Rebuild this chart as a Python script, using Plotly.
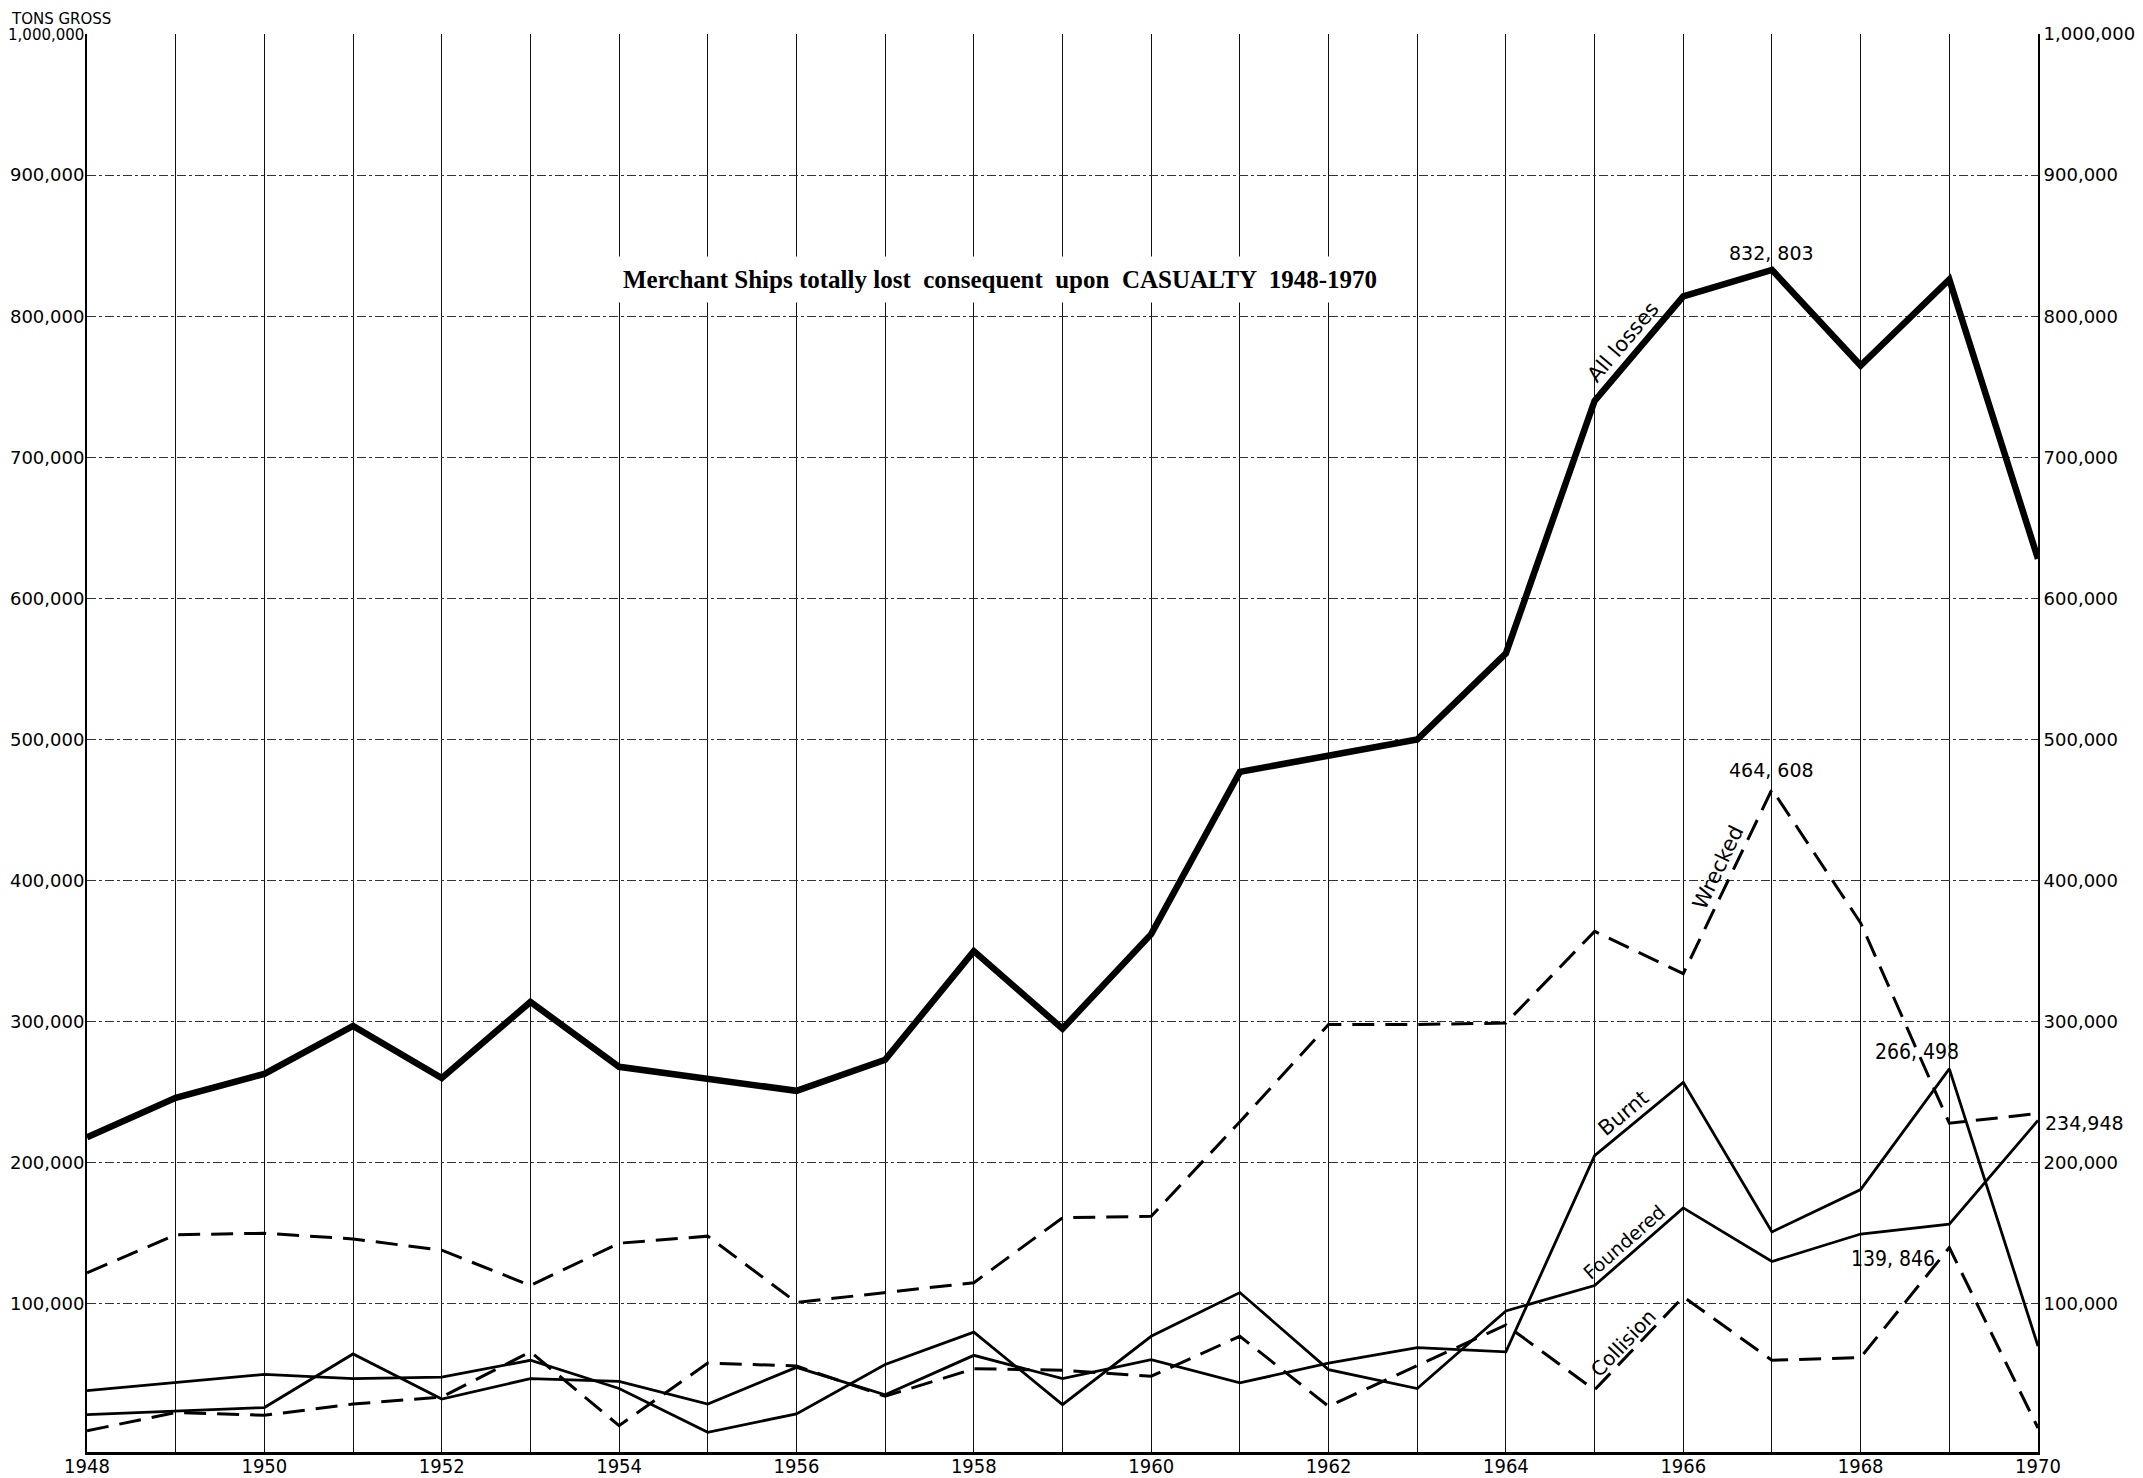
import math
import plotly.graph_objects as go

# ---------------- data ----------------
YEARS = list(range(1948, 1971))
ALL_LOSSES = [218000, 246000, 263000, 297000, 260000, 314000, 268000, 260000, 251000, 273000,
              350000, 295000, 362000, 477000, 488000, 500000, 561000, 740000, 814000, 832803,
              765000, 826000, 628000]
WRECKED = [122000, 149000, 150000, 146000, 138000, 113000, 143000, 148000, 101000, 108000,
           115000, 161000, 162000, 229000, 298000, 298000, 299000, 364000, 334000, 464608,
           370000, 228000, 234948]
BURNT = [21500, 24000, 26500, 64500, 32500, 47000, 45000, 29000, 55000, 35500,
         63500, 47000, 60500, 44000, 58000, 69000, 66000, 205000, 257000, 151000,
         181000, 266498, 70000]
FOUNDERED = [38500, 44000, 50000, 47000, 48000, 60000, 40000, 9000, 22000, 57000,
             80000, 28600, 77000, 108000, 53400, 40000, 95000, 113000, 168000, 130000,
             149500, 156500, 230000]
COLLISION = [10000, 23000, 21000, 29000, 34000, 66000, 13700, 58000, 56000, 34500,
             54000, 53000, 48700, 77000, 27400, 56000, 85000, 39000, 105000, 60000,
             62000, 139846, 12000]

X_TICK_LABELS = [str(y) if y % 2 == 0 else "" for y in YEARS]
Y_TICKS = [100000, 200000, 300000, 400000, 500000, 600000, 700000, 800000, 900000, 1000000]
Y_TICK_LABELS = ["100,000", "200,000", "300,000", "400,000", "500,000",
                 "600,000", "700,000", "800,000", "900,000", "1,000,000"]

TITLE = "Merchant Ships totally lost  consequent  upon  CASUALTY  1948-1970"
UNIT = "TONS GROSS"

# ---------------- geometry / style ----------------
# the page body adds an 8 px offset; the figure is sized to fit the window
# and the margins place the plot box where the reference has it
W, H = 2135, 1470
ML, MR, MT, MB = 79, 105, 26, 26
PW, PH = W - ML - MR, H - MT - MB
X0, X1 = 1948, 1970
Y0, Y1 = -5000, 1000000

SANS = "DejaVu Sans"
NARROW = "Liberation Sans Narrow, DejaVu Sans Condensed, Liberation Sans"


def px(x):
    return ML + (x - X0) / (X1 - X0) * PW


def py(y):
    return MT + (Y1 - y) / (Y1 - Y0) * PH


fig = go.Figure()

dash = "22px,11px"
fig.add_trace(go.Scatter(x=YEARS, y=WRECKED, mode="lines", name="Wrecked",
                         line=dict(color="black", width=3, dash=dash)))
fig.add_trace(go.Scatter(x=YEARS, y=COLLISION, mode="lines", name="Collision",
                         line=dict(color="black", width=3, dash=dash)))
fig.add_trace(go.Scatter(x=YEARS, y=BURNT, mode="lines", name="Burnt",
                         line=dict(color="black", width=2.8)))
fig.add_trace(go.Scatter(x=YEARS, y=FOUNDERED, mode="lines", name="Foundered",
                         line=dict(color="black", width=2.8)))
fig.add_trace(go.Scatter(x=YEARS, y=ALL_LOSSES, mode="lines", name="All losses",
                         line=dict(color="black", width=6.5)))
# invisible trace to carry the right-hand axis
fig.add_trace(go.Scatter(x=YEARS, y=ALL_LOSSES, mode="lines", yaxis="y2",
                         line=dict(color="rgba(0,0,0,0)", width=0), hoverinfo="skip",
                         showlegend=False))


def seg_label(series, year, t, text, off, size=20):
    i = YEARS.index(year)
    xa, ya = px(YEARS[i]), py(series[i])
    xb, yb = px(YEARS[i + 1]), py(series[i + 1])
    dx, dy = xb - xa, yb - ya
    L = math.hypot(dx, dy)
    ang = math.degrees(math.atan2(dy, dx))
    nx, ny = dy / L, -dx / L
    cx, cy = xa + t * dx + off * nx, ya + t * dy + off * ny
    fig.add_annotation(x=(cx - ML) / PW, y=1 - (cy - MT) / PH, xref="paper", yref="paper",
                       text=text, showarrow=False, textangle=ang,
                       xanchor="center", yanchor="middle",
                       font=dict(family=SANS, size=size, color="black"))


seg_label(ALL_LOSSES, 1965, 0.46, "All losses", 16, 21)
seg_label(WRECKED, 1966, 0.54, "Wrecked", 15, 21)
seg_label(BURNT, 1965, 0.43, "Burnt", 14, 21)
seg_label(FOUNDERED, 1965, 0.43, "Foundered", 13, 19)
seg_label(COLLISION, 1965, 0.42, "Collision", 12, 20)


def val_label(series, year, text, **kw):
    i = YEARS.index(year)
    fig.add_annotation(x=YEARS[i], y=series[i], xref="x", yref="y", text=text,
                       showarrow=False, **kw)


vfont = dict(family=SANS, size=19, color="black")
nfont = dict(family=NARROW, size=21, color="black")
val_label(ALL_LOSSES, 1967, "832, 803", yanchor="bottom", yshift=4, font=vfont)
val_label(WRECKED, 1967, "464, 608", yanchor="bottom", yshift=6, font=vfont)
val_label(BURNT, 1969, "266, 498", yanchor="bottom", xshift=-32, yshift=3, font=nfont)
val_label(COLLISION, 1969, "139, 846", xanchor="right", yanchor="middle", xshift=-12, yshift=-11,
          font=nfont)
val_label(WRECKED, 1970, "234,948", xanchor="left", yanchor="middle", xshift=5, yshift=-10,
          font=dict(family=SANS, size=19, color="black"))

# title with white box
fig.add_annotation(x=(1000 - 8 - ML) / PW, y=1 - (280 - 8 - MT) / PH, xref="paper", yref="paper",
                   text="<b>" + TITLE + "</b>", showarrow=False, xanchor="center", yanchor="middle",
                   bgcolor="white", borderpad=9,
                   font=dict(family="Liberation Serif", size=25, color="black"))

# unit label in the top-left corner
fig.add_annotation(x=0, y=1, xref="paper", yref="paper", text=UNIT, showarrow=False,
                   xanchor="right", yanchor="bottom", xshift=26, yshift=4,
                   font=dict(family=SANS, size=15, color="black"))

# left labels sized so they stay inside the page; the longest one a bit smaller
LEFT_TICK_TEXT = [t if len(t) < 8 else "<span style='font-size:15px'>" + t + "</span>"
                  for t in Y_TICK_LABELS]

fig.update_layout(
    width=W, height=H,
    margin=dict(l=ML, r=MR, t=MT, b=MB, autoexpand=False),
    paper_bgcolor="white", plot_bgcolor="white",
    showlegend=False,
    xaxis=dict(range=[X0, X1], tickmode="array", tickvals=YEARS, ticktext=X_TICK_LABELS,
               showgrid=True, gridcolor="#111111", gridwidth=1.3, zeroline=False,
               showline=True, linecolor="black", linewidth=3, ticks="",
               ticklabelstandoff=-6,
               tickfont=dict(family=NARROW, size=20, color="black"), automargin=False),
    yaxis=dict(range=[Y0, Y1], tickmode="array", tickvals=Y_TICKS, ticktext=LEFT_TICK_TEXT,
               showgrid=True, gridcolor="#333333", gridwidth=1, griddash="dashdot",
               zeroline=False, showline=True, linecolor="black", linewidth=2, ticks="",
               ticklabelstandoff=-3,
               tickfont=dict(family=SANS, size=18, color="black"), automargin=False),
    yaxis2=dict(range=[Y0, Y1], overlaying="y", side="right", tickmode="array",
                tickvals=Y_TICKS, ticktext=Y_TICK_LABELS, showgrid=False, zeroline=False,
                showline=True, linecolor="black", linewidth=2, ticks="",
                tickfont=dict(family=SANS, size=18, color="black"), automargin=False),
)

fig.write_html("out.html")
